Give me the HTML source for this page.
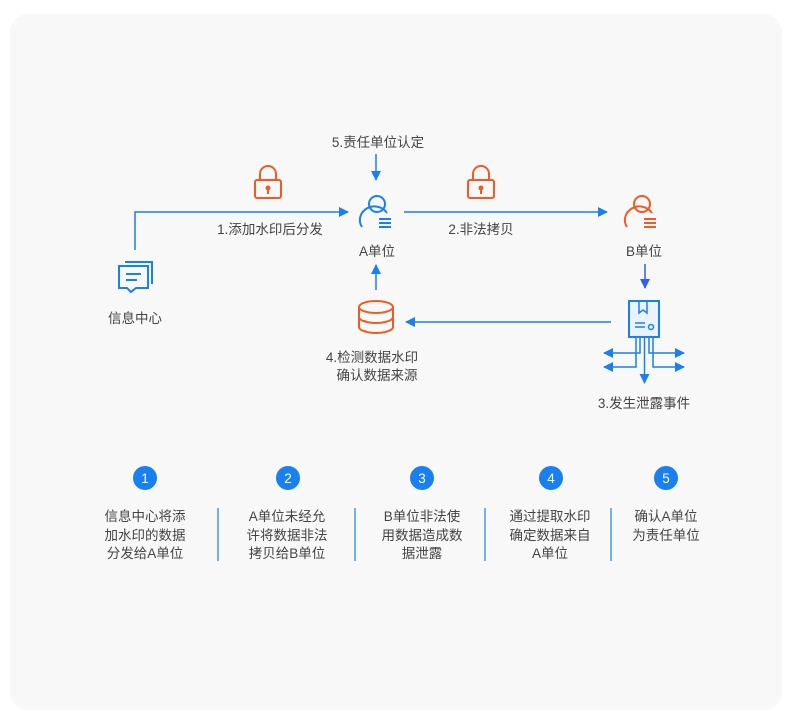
<!DOCTYPE html>
<html><head><meta charset="utf-8"><style>
html,body{margin:0;padding:0;background:#fff;width:800px;height:723px;overflow:hidden}
svg text{font-family:"Liberation Sans","Noto Sans CJK SC",sans-serif;font-size:13.5px;fill:#444}
</style></head><body>
<svg width="800" height="723" viewBox="0 0 800 723" xmlns="http://www.w3.org/2000/svg">
<defs>
<marker id="a" markerWidth="10" markerHeight="10" refX="9" refY="5" orient="auto" markerUnits="userSpaceOnUse"><path d="M0,0 L10,5 L0,10 z" fill="#1a7ff0"/></marker>
<marker id="b" markerWidth="10" markerHeight="10" refX="9" refY="5" orient="auto" markerUnits="userSpaceOnUse"><path d="M0,0 L10,5 L0,10 z" fill="#2f5ff0"/></marker>
<g id="lock"><rect x="-13" y="-4" width="26" height="18" rx="2" fill="none" stroke="#f15a22" stroke-width="2"/><path d="M-8,-4 V-10 A8,8 0 0 1 8,-10 V-4" fill="none" stroke="#f15a22" stroke-width="2"/><circle cx="0" cy="4" r="2.5" fill="#f15a22"/><rect x="-1" y="5" width="2" height="5" fill="#f15a22"/></g>
</defs>
<rect x="10" y="14" width="772" height="696" rx="18" fill="#f8f8f8"/>

<text x="378" y="147" text-anchor="middle">5.责任单位认定</text>
<line x1="376" y1="154" x2="376" y2="180" stroke="#1a7ff0" stroke-width="1.5" marker-end="url(#a)"/>

<use href="#lock" x="268" y="184"/>
<use href="#lock" x="481" y="184"/>

<path d="M135,250 V212 H348" fill="none" stroke="#1a7ff0" stroke-width="1.5" marker-end="url(#a)"/>
<text x="270" y="234" text-anchor="middle">1.添加水印后分发</text>

<!-- A person -->
<g fill="none" stroke="#1a7ff0" stroke-width="2"><circle cx="377" cy="204" r="8"/><path d="M362,227 A14,13 0 0 1 387,213"/></g>
<g fill="#1a7ff0"><rect x="379" y="218" width="12" height="2"/><rect x="379" y="222" width="12" height="2"/><rect x="379" y="226" width="12" height="2"/></g>
<text x="377" y="256" text-anchor="middle">A单位</text>

<line x1="404" y1="212" x2="607" y2="212" stroke="#1a7ff0" stroke-width="1.5" marker-end="url(#a)"/>
<text x="481" y="234" text-anchor="middle">2.非法拷贝</text>

<!-- B person -->
<g fill="none" stroke="#f15a22" stroke-width="2"><circle cx="642" cy="204" r="8"/><path d="M627,227 A14,13 0 0 1 652,213"/></g>
<g fill="#f15a22"><rect x="644" y="218" width="12" height="2"/><rect x="644" y="222" width="12" height="2"/><rect x="644" y="226" width="12" height="2"/></g>
<text x="644" y="256" text-anchor="middle">B单位</text>
<line x1="645" y1="264" x2="645" y2="288" stroke="#2f5ff0" stroke-width="1.5" marker-end="url(#b)"/>

<!-- message icon -->
<g fill="none" stroke="#1a7ff0" stroke-width="2"><path d="M125,262 H152 V284"/><path d="M119,266 H148 V288 H136 L131,292 L127,288 H119 Z"/><line x1="126" y1="274" x2="141" y2="274"/><line x1="126" y1="280" x2="137" y2="280"/></g>
<text x="135" y="323" text-anchor="middle">信息中心</text>

<!-- database -->
<g fill="none" stroke="#f15a22" stroke-width="2"><ellipse cx="376" cy="307" rx="17" ry="6"/><path d="M359,307 V327 A17,6 0 0 0 393,327 V307"/><path d="M359,317 A17,6 0 0 0 393,317"/></g>
<circle cx="365" cy="321" r="1" fill="#f15a22"/><circle cx="365" cy="331" r="1" fill="#f15a22"/>
<line x1="376" y1="290" x2="376" y2="265" stroke="#1a7ff0" stroke-width="1.5" marker-end="url(#a)"/>
<text x="372" y="362" text-anchor="middle">4.检测数据水印</text>
<text x="377" y="380" text-anchor="middle">确认数据来源</text>

<line x1="611" y1="322" x2="406" y2="322" stroke="#1a7ff0" stroke-width="1.5" marker-end="url(#a)"/>

<!-- leak doc -->
<rect x="629" y="301" width="30" height="36" fill="#eaf2fd" stroke="#1a7ff0" stroke-width="2"/>
<path d="M639,301 V313 L643,310 L647,313 V301" fill="none" stroke="#1a7ff0" stroke-width="1.5"/>
<line x1="635" y1="323" x2="645" y2="323" stroke="#1a7ff0" stroke-width="1.5"/>
<circle cx="651" cy="327" r="2.5" fill="none" stroke="#1a7ff0" stroke-width="1.5"/>
<line x1="635" y1="327" x2="645" y2="327" stroke="#1a7ff0" stroke-width="1.5"/>
<g fill="none" stroke="#1a7ff0" stroke-width="1.5">
<path d="M640,338 V353 H604" marker-end="url(#a)"/>
<path d="M636,338 V367 H604" marker-end="url(#a)"/>
<path d="M649,338 V353 H684" marker-end="url(#a)"/>
<path d="M653,338 V367 H684" marker-end="url(#a)"/>
<path d="M644.5,338 V383" marker-end="url(#a)"/>
</g>
<text x="644" y="408" text-anchor="middle">3.发生泄露事件</text>

<!-- bottom -->
<g fill="#1a7ff0"><circle cx="145" cy="478" r="12"/><circle cx="288" cy="478" r="12"/><circle cx="422" cy="478" r="12"/><circle cx="551" cy="478" r="12"/><circle cx="666" cy="478" r="12"/></g>
<g text-anchor="middle"><text x="145" y="483" style="fill:#fff">1</text><text x="288" y="483" style="fill:#fff">2</text><text x="422" y="483" style="fill:#fff">3</text><text x="551" y="483" style="fill:#fff">4</text><text x="666" y="483" style="fill:#fff">5</text></g>
<g stroke="#1a7ff0" stroke-width="1.2"><line x1="218" y1="508" x2="218" y2="561"/><line x1="355" y1="508" x2="355" y2="561"/><line x1="485" y1="508" x2="485" y2="561"/><line x1="611" y1="508" x2="611" y2="561"/></g>
<g text-anchor="middle">
<text x="145" y="521">信息中心将添</text><text x="145" y="540">加水印的数据</text><text x="145" y="558">分发给A单位</text>
<text x="287" y="521">A单位未经允</text><text x="287" y="540">许将数据非法</text><text x="287" y="558">拷贝给B单位</text>
<text x="422" y="521">B单位非法使</text><text x="422" y="540">用数据造成数</text><text x="422" y="558">据泄露</text>
<text x="550" y="521">通过提取水印</text><text x="550" y="540">确定数据来自</text><text x="550" y="558">A单位</text>
<text x="666" y="521">确认A单位</text><text x="666" y="540">为责任单位</text>
</g>
</svg>
</body></html>
